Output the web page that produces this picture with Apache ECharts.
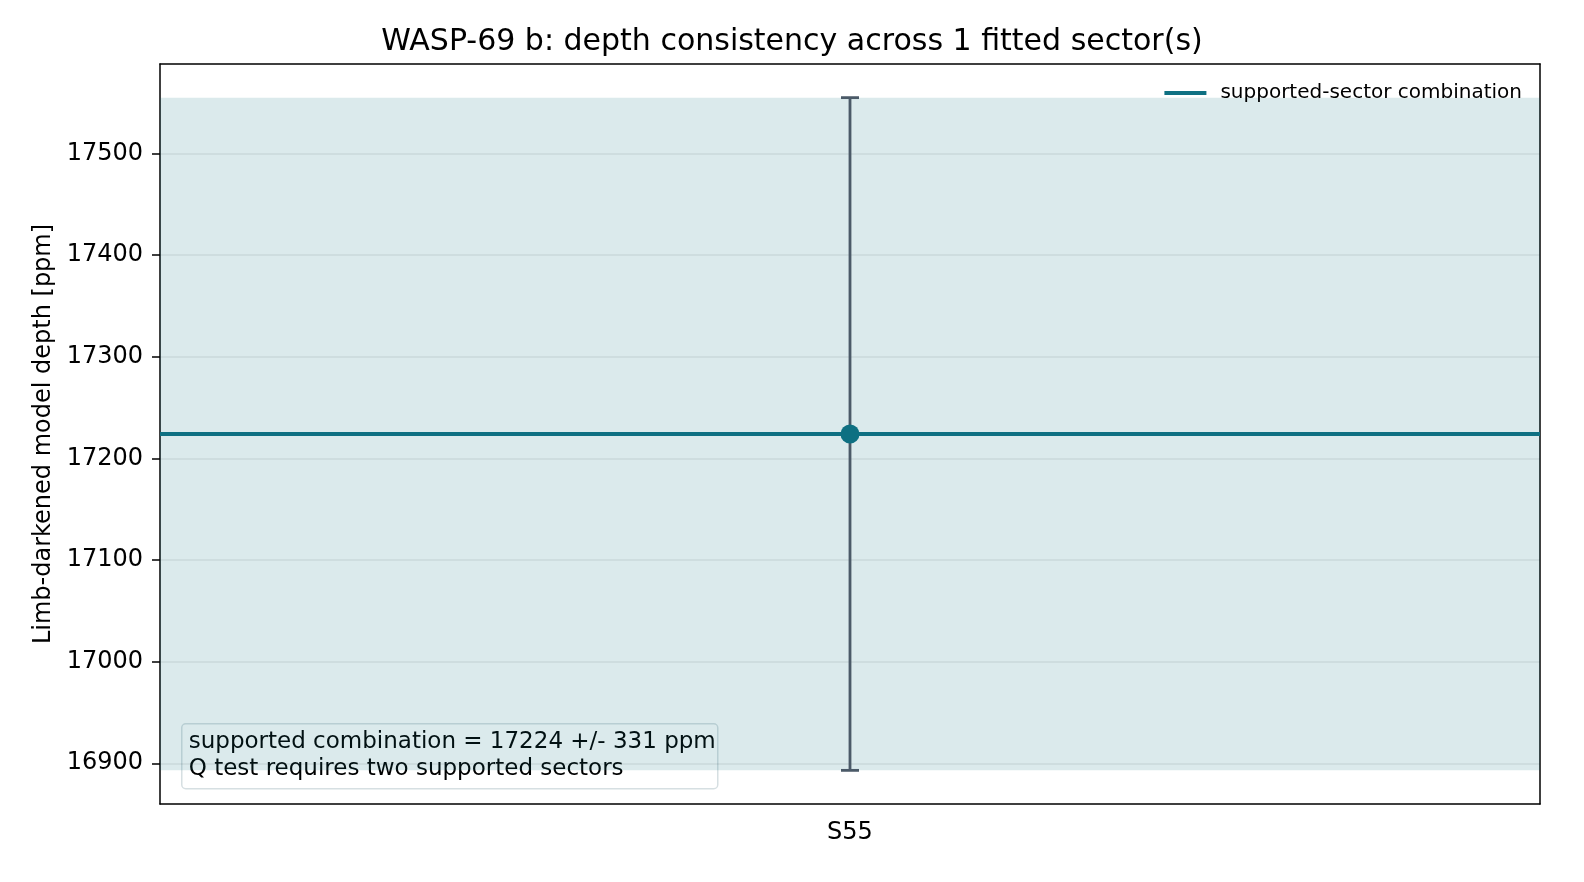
<!DOCTYPE html>
<html>
<head>
<meta charset="utf-8">
<script src="https://cdn.jsdelivr.net/npm/echarts@6/dist/echarts.min.js"></script>
<style>
  html, body { margin: 0; padding: 0; background: #fff; overflow: hidden; }
  #main { width: 1584px; height: 882px; }
</style>
</head>
<body>
<div id="main"></div>
<script>
var sectors = ['S55'];
var depths = [17224];
var depthErrs = [331];
var combined = 17224;
var combinedErr = 331;
var yTicks = [16900, 17000, 17100, 17200, 17300, 17400, 17500];
var noteLines = [
  'supported combination = 17224 +/- 331 ppm',
  'Q test requires two supported sectors'
];

var teal = '#0e7082';
var barColor = '#4b5a68';
var font = 'DejaVu Sans';

// axis range like matplotlib's 5% data margins
var lo = combined - combinedErr, hi = combined + combinedErr;
var pad = 0.05 * (hi - lo);
var yMin = lo - pad, yMax = hi + pad;

var errData = sectors.map(function (s, i) {
  return [i, depths[i] - depthErrs[i], depths[i] + depthErrs[i]];
});
var pointData = sectors.map(function (s, i) { return [i, depths[i]]; });

var myChart = echarts.init(document.getElementById('main'));
option = {
  backgroundColor: '#fff',
  animation: false,
  title: {
    text: 'WASP-69 b: depth consistency across 1 fitted sector(s)',
    left: 'center',
    top: 22,
    textStyle: { fontFamily: font, fontSize: 30, fontWeight: 'normal', color: '#000' }
  },
  legend: {
    data: ['supported-sector combination'],
    right: 57,
    top: 78,
    icon: 'rect',
    itemWidth: 42,
    itemHeight: 4,
    textStyle: { fontFamily: font, fontSize: 20, color: '#000', padding: [0, 0, 0, 9] }
  },
  grid: { left: 160, right: 44, top: 64, bottom: 78 },
  xAxis: [{
    type: 'category',
    data: sectors,
    boundaryGap: true,
    axisLine: { lineStyle: { color: '#000', width: 1.5 } },
    axisTick: { alignWithLabel: true, length: 8, lineStyle: { color: '#000', width: 1.5 } },
    axisLabel: { margin: 17, fontFamily: font, fontSize: 24, color: '#000' },
    splitLine: { show: false }
  }, {
    type: 'category',
    data: sectors,
    position: 'top',
    axisLine: { lineStyle: { color: '#000', width: 1.5 } },
    axisTick: { show: false },
    axisLabel: { show: false }
  }],
  yAxis: [{
    type: 'value',
    min: yMin,
    max: yMax,
    name: 'Limb-darkened model depth [ppm]',
    nameLocation: 'middle',
    nameGap: 98,
    nameTextStyle: { fontFamily: font, fontSize: 24, color: '#000' },
    axisLine: { show: true, lineStyle: { color: '#000', width: 1.5 } },
    axisTick: { show: true, length: 8, customValues: yTicks, lineStyle: { color: '#000', width: 1.5 } },
    axisLabel: { margin: 17, fontFamily: font, fontSize: 24, color: '#000',
      customValues: yTicks, formatter: function (v) { return String(v); } },
    splitLine: { show: true, lineStyle: { color: 'rgba(0,0,0,0.08)', width: 1.5 } }
  }, {
    type: 'value',
    min: yMin,
    max: yMax,
    position: 'right',
    axisLine: { show: true, lineStyle: { color: '#000', width: 1.5 } },
    axisTick: { show: false },
    axisLabel: { show: false },
    splitLine: { show: false }
  }],
  series: [{
    name: 'supported-sector combination',
    type: 'line',
    data: [],
    color: teal,
    lineStyle: { width: 4, color: teal },
    markArea: {
      silent: true,
      itemStyle: { color: 'rgba(14,112,130,0.15)' },
      data: [[{ yAxis: lo }, { yAxis: hi }]]
    },
    markLine: {
      silent: true,
      symbol: 'none',
      label: { show: false },
      lineStyle: { color: teal, width: 4, type: 'solid' },
      data: [{ yAxis: combined }]
    }
  }, {
    type: 'custom',
    name: 'err',
    data: errData,
    z: 3,
    renderItem: function (params, api) {
      var x = api.value(0);
      var top = api.coord([x, api.value(2)]);
      var bot = api.coord([x, api.value(1)]);
      var cap = 9;
      var style = { stroke: barColor, lineWidth: 2.8 };
      return {
        type: 'group',
        children: [
          { type: 'line', shape: { x1: top[0], y1: top[1], x2: bot[0], y2: bot[1] }, style: style },
          { type: 'line', shape: { x1: top[0] - cap, y1: top[1], x2: top[0] + cap, y2: top[1] }, style: style },
          { type: 'line', shape: { x1: bot[0] - cap, y1: bot[1], x2: bot[0] + cap, y2: bot[1] }, style: style }
        ]
      };
    }
  }, {
    type: 'scatter',
    name: 'depth',
    data: pointData,
    symbolSize: 19,
    z: 4,
    itemStyle: { color: teal, opacity: 1 }
  }],
  graphic: [{
    type: 'group',
    left: 181,
    top: 723,
    z: 10,
    children: [{
      type: 'rect',
      shape: { x: 0, y: 0, width: 536, height: 65, r: 4 },
      style: { fill: 'rgba(255,255,255,0.8)', stroke: '#d6dfe2', lineWidth: 1.5 }
    }, {
      type: 'text',
      style: {
        x: 7, y: 5,
        text: noteLines.join('\n'),
        font: '23px "DejaVu Sans"',
        lineHeight: 27,
        fill: '#000'
      }
    }]
  }]
};
myChart.setOption(option);
</script>
</body>
</html>
